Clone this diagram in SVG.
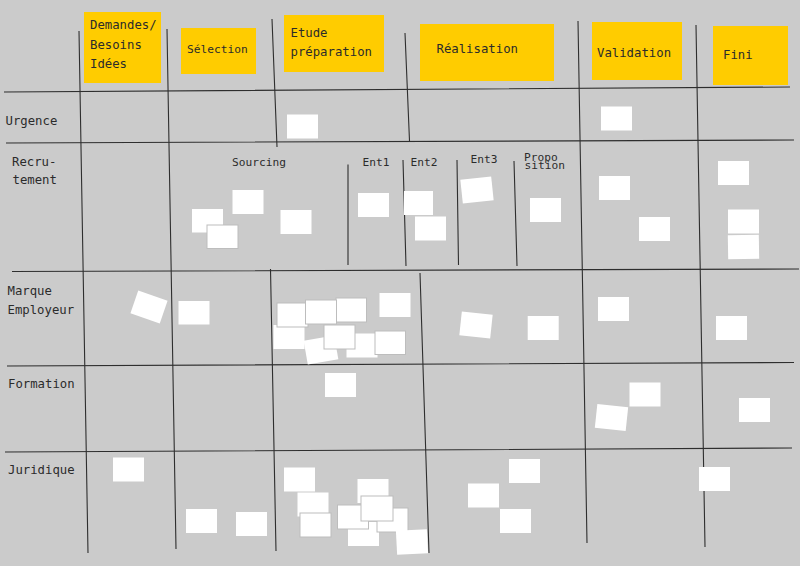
<svg xmlns="http://www.w3.org/2000/svg" width="800" height="566" viewBox="0 0 800 566">
<style>
.l{stroke:#2e2e2e;stroke-width:1.1;fill:none}
.y{fill:#ffcc00}
.s{fill:#fff}
.o{fill:#fff;stroke:#bdbdbd;stroke-width:1}
text{font-family:"DejaVu Sans Mono","Liberation Mono",monospace;font-size:12.3px;fill:#2b2b2b}
.m{font-size:11.2px}
</style>
<rect width="800" height="566" fill="#cbcbcb"/>
<g id="connectors">
<path class="l" d="M4 92L790 87M6 143L794 140M12 271.500L799 269M7 366L794 362.500M5 452L792 448"/>
<path class="l" d="M79 31L88 553M167 29L176 549M272 19L277 147M270.500 269L276 551M405 33L409.500 141M420 273L429 553M578 21L587 543M696 25L705 547"/>
<path class="l" d="M348 164.500L348 265M403 160L406 266M457 160L458.500 265M514 161L517 266"/>
</g>
<g id="col-demandes"><rect class="y" x="84" y="12" width="77" height="71"/><text x="90" y="29">Demandes/</text><text x="90" y="48.500">Besoins</text><text x="90" y="67.500">Idées</text></g>
<g id="col-selection"><rect class="y" x="181" y="28" width="75" height="46"/><text class="m" x="187" y="53">Sélection</text></g>
<g id="col-etude"><rect class="y" x="284" y="15" width="100" height="57"/><text x="290.500" y="37">Etude</text><text x="290.500" y="56">préparation</text></g>
<g id="col-realisation"><rect class="y" x="420" y="24" width="134" height="57"/><text x="436.500" y="53">Réalisation</text></g>
<g id="col-validation"><rect class="y" x="592" y="22" width="90" height="58"/><text x="597" y="57">Validation</text></g>
<g id="col-fini"><rect class="y" x="713" y="26" width="75" height="59"/><text x="723" y="59">Fini</text></g>
<g id="row-labels">
<text x="5.500" y="125">Urgence</text>
<text x="12" y="166">Recru-</text><text x="12.500" y="184">tement</text>
<text x="7.500" y="295">Marque</text><text x="7.500" y="314">Employeur</text>
<text x="8" y="388">Formation</text>
<text x="8" y="474">Juridique</text>
</g>
<g id="sub-labels">
<text class="m" x="232" y="166">Sourcing</text>
<text class="m" x="362.500" y="165.500">Ent1</text>
<text class="m" x="410.500" y="165.500">Ent2</text>
<text class="m" x="470.500" y="163">Ent3</text>
<text class="m" x="524" y="161">Propo</text>
<text class="m" x="524.500" y="169">sition</text>
</g>
<g id="notes-urgence"><rect class="s" x="287" y="114.500" width="31" height="24"/><rect class="s" x="601" y="106.500" width="31" height="24"/></g>
<g id="notes-recrutement">
<rect class="s" x="192" y="209" width="31" height="23.500"/><rect class="o" x="207" y="225" width="31" height="23.500"/><rect class="s" x="232.500" y="190" width="31" height="24"/><rect class="s" x="280.500" y="210" width="31" height="24"/>
<rect class="s" x="358" y="193" width="31" height="24"/>
<rect class="s" x="404" y="191" width="29" height="24"/><rect class="s" x="415" y="216.500" width="31" height="24"/>
<rect class="s" x="-15.500" y="-12" width="31" height="24" transform="translate(477 190) rotate(-6)"/>
<rect class="s" x="530" y="198" width="31" height="24"/>
<rect class="s" x="599" y="176" width="31" height="24"/><rect class="s" x="639" y="217" width="31" height="24"/>
<rect class="s" x="718" y="161" width="31" height="24"/><rect class="s" x="728" y="209.500" width="31" height="24"/>
<rect class="s" x="-15.500" y="-12" width="31" height="24" transform="translate(743.500 247) rotate(-1)"/>
</g>
<g id="notes-marque">
<rect class="s" x="-15.500" y="-12" width="31" height="24" transform="translate(149 307) rotate(19)"/>
<rect class="s" x="178.500" y="301" width="31" height="23.500"/>
<rect class="s" x="273.500" y="325" width="31" height="24"/>
<rect class="o" x="336" y="298" width="30.500" height="24"/>
<rect class="o" x="277" y="303" width="31" height="24"/>
<rect class="o" x="305.500" y="300" width="31" height="24"/>
<rect class="s" x="379.500" y="293" width="31" height="24"/>
<rect class="s" x="-15.500" y="-12" width="31" height="24" transform="translate(321 350) rotate(-10)"/>
<rect class="s" x="346.500" y="333.500" width="31" height="24"/>
<rect class="o" x="324" y="325" width="31" height="24"/>
<rect class="o" x="375" y="331" width="30.500" height="23.500"/>
<rect class="s" x="-15.500" y="-12" width="31" height="24" transform="translate(476 325) rotate(6)"/>
<rect class="s" x="527.700" y="316" width="31" height="24"/>
<rect class="s" x="598" y="297" width="31" height="24"/>
<rect class="s" x="716" y="316" width="31" height="24"/>
</g>
<g id="notes-formation">
<rect class="s" x="325" y="373" width="31" height="24"/>
<rect class="s" x="629.500" y="382.500" width="31" height="24"/>
<rect class="s" x="-15.500" y="-12" width="31" height="24" transform="translate(611.500 417.500) rotate(6)"/>
<rect class="s" x="739" y="398" width="31" height="24"/>
</g>
<g id="notes-juridique">
<rect class="s" x="113" y="457.500" width="31" height="24"/>
<rect class="s" x="186" y="509" width="31" height="24"/><rect class="s" x="236" y="512" width="31" height="24"/>
<rect class="s" x="284" y="467.500" width="31" height="24"/>
<rect class="s" x="297.500" y="492.500" width="31" height="24"/>
<rect class="o" x="300" y="513" width="31" height="24"/>
<rect class="s" x="357.500" y="479" width="31" height="24"/>
<rect class="s" x="348" y="522" width="31" height="24"/>
<rect class="o" x="377" y="508" width="31" height="24"/>
<rect class="o" x="337.500" y="505" width="31" height="24"/>
<rect class="o" x="361" y="496" width="32" height="25"/>
<rect class="s" x="-15.500" y="-12" width="31" height="24" transform="translate(412 542) rotate(-3)"/>
<rect class="s" x="509" y="459" width="31" height="24"/>
<rect class="s" x="468" y="483.500" width="31" height="24"/>
<rect class="s" x="500" y="509" width="31" height="24"/>
<rect class="s" x="699" y="467" width="31" height="24"/>
</g>
</svg>
